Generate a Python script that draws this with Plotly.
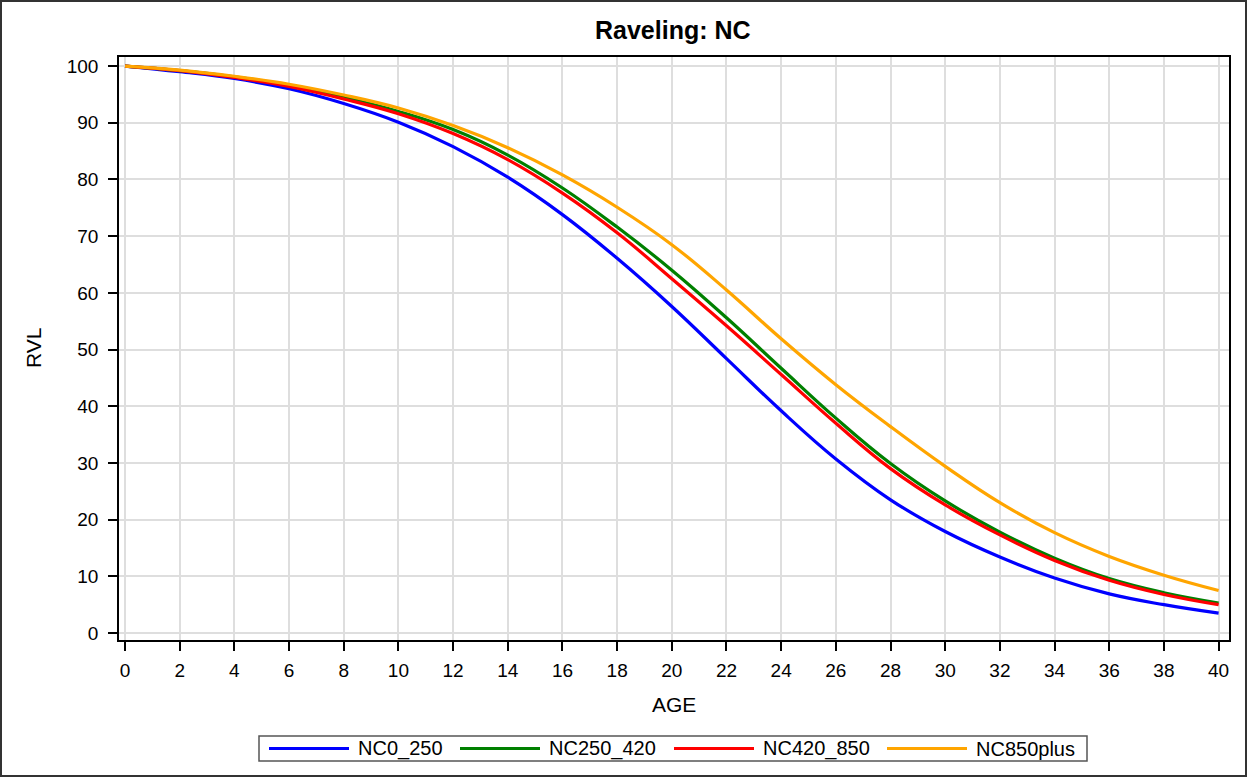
import plotly.graph_objects as go

# Raveling condition (RVL) by pavement age, one curve per NC traffic group
ages = list(range(0, 41, 2))

series_names = ["NC0_250", "NC250_420", "NC420_850", "NC850plus"]
rvl_nc0_250 = [100, 99.0, 97.8, 96.0, 93.4, 90.1, 85.8, 80.4, 73.8, 66.1, 57.6,
               48.4, 39.2, 30.7, 23.5, 17.9, 13.4, 9.7, 6.9, 5.0, 3.5]
rvl_nc250_420 = [100, 99.2, 98.1, 96.6, 94.5, 92.0, 88.8, 84.3, 78.5, 71.6, 64.0,
                 55.6, 46.7, 37.9, 29.9, 23.3, 17.8, 13.2, 9.6, 7.1, 5.3]
rvl_nc420_850 = [100, 99.2, 98.0, 96.4, 94.2, 91.6, 88.1, 83.5, 77.6, 70.6, 62.5,
                 54.2, 45.6, 37.0, 29.0, 22.6, 17.3, 12.8, 9.3, 6.8, 5.0]
rvl_nc850plus = [100, 99.3, 98.2, 96.8, 94.9, 92.6, 89.5, 85.6, 80.8, 75.1, 68.5,
                 60.5, 51.9, 43.8, 36.4, 29.4, 23.0, 17.7, 13.5, 10.2, 7.5]
series_values = [rvl_nc0_250, rvl_nc250_420, rvl_nc420_850, rvl_nc850plus]
series_colors = ["#0000FF", "#008000", "#FF0000", "#FFA500"]

x_ticks = list(range(0, 41, 2))
y_ticks = list(range(0, 101, 10))

title_text = "Raveling: NC"
x_title = "AGE"
y_title = "RVL"

# Page geometry (pixels)
W, H = 1247, 777
PL, PR, PT, PB = 119, 1229, 57, 640

FONT = "Liberation Sans, Arial, Helvetica, sans-serif"


def fx(px):
    return (px - PL) / (PR - PL)


def fy(py):
    return (PB - py) / (PB - PT)


fig = go.Figure()
for name, vals, color in zip(series_names, series_values, series_colors):
    fig.add_trace(go.Scatter(
        x=ages, y=vals, name=name, mode="lines",
        line=dict(color=color, width=3.2, shape="spline", smoothing=1.2),
        showlegend=False,
    ))

axis_common = dict(
    showline=True, linecolor="#000000", linewidth=1.5, mirror=True,
    showgrid=True, gridcolor="#DEDEDE", gridwidth=1.5,
    ticks="outside", ticklen=9, tickwidth=1.5, tickcolor="#000000",
    tickfont=dict(family=FONT, size=19, color="#000000"),
    zeroline=False,
)

fig.update_xaxes(range=[-0.22, 40.38], tickvals=x_ticks, ticklabelstandoff=3, **axis_common)
fig.update_yaxes(range=[-1.23, 101.6], tickvals=y_ticks, ticklabelstandoff=6, **axis_common)

shapes = [
    # outer frame around the whole graphic
    dict(type="rect", xref="paper", yref="paper",
         x0=fx(1), x1=fx(W - 1), y0=fy(H - 1), y1=fy(1),
         line=dict(color="#333333", width=2), fillcolor="rgba(0,0,0,0)"),
    # legend box
    dict(type="rect", xref="paper", yref="paper",
         x0=fx(259), x1=fx(1087), y0=fy(761), y1=fy(736),
         line=dict(color="#555555", width=1.5), fillcolor="rgba(0,0,0,0)"),
]

annotations = [
    dict(text="<b>%s</b>" % title_text, xref="paper", yref="paper",
         x=fx(673), y=fy(30), xanchor="center", yanchor="middle", showarrow=False,
         font=dict(family=FONT, size=25, color="#000000")),
    dict(text=x_title, xref="paper", yref="paper",
         x=fx(674), y=fy(704), xanchor="center", yanchor="middle", showarrow=False,
         font=dict(family=FONT, size=21, color="#000000")),
    dict(text=y_title, xref="paper", yref="paper", textangle=-90,
         x=fx(33), y=fy(348), xanchor="center", yanchor="middle", showarrow=False,
         font=dict(family=FONT, size=21, color="#000000")),
]

# legend entries: a line sample followed by the group name
legend_starts = [269, 460, 674, 887]
legend_y = 748.5
for start, name, color in zip(legend_starts, series_names, series_colors):
    shapes.append(dict(type="line", xref="paper", yref="paper",
                       x0=fx(start), x1=fx(start + 80), y0=fy(legend_y), y1=fy(legend_y),
                       line=dict(color=color, width=3)))
    annotations.append(dict(text=name, xref="paper", yref="paper",
                            x=fx(start + 87), y=fy(legend_y), xanchor="left", yanchor="middle",
                            showarrow=False,
                            font=dict(family=FONT, size=20, color="#000000")))

fig.update_layout(
    width=W, height=H,
    margin=dict(l=PL, r=W - PR, t=PT, b=H - PB),
    paper_bgcolor="white", plot_bgcolor="white",
    shapes=shapes, annotations=annotations,
    showlegend=False,
)

fig.write_html("out.html")
